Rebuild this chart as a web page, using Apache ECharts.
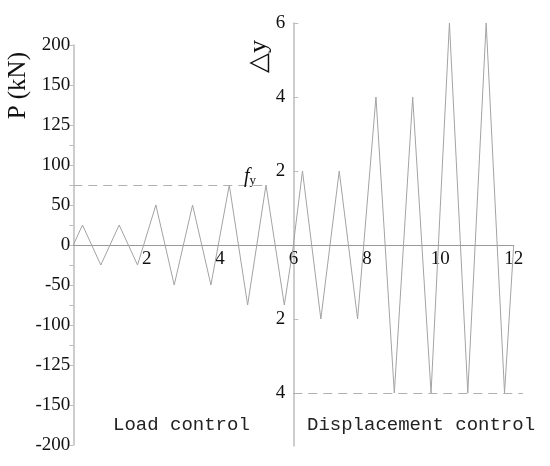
<!DOCTYPE html>
<html lang="en">
<head>
    <meta charset="UTF-8">
    <title>Loading protocol</title>
    <script src="https://cdn.jsdelivr.net/npm/echarts@6/dist/echarts.min.js"></script>
</head>
<body style="margin:0;">
    <div id="main" style="width:550px;height:466px;"></div>

    <script>
// load control part, P in kN
var loadX = [0, 0.25, 0.75, 1.25, 1.75, 2.25, 2.75, 3.25, 3.75, 4.25, 4.75, 5.25, 5.75, 6];
var loadP = [0, 25, -25, 25, -25, 50, -50, 50, -50, 75, -75, 75, -75, 0];
// displacement control part, in multiples of yield displacement
var dispX = [6, 6.25, 6.75, 7.25, 7.75, 8.25, 8.75, 9.25, 9.75, 10.25, 10.75, 11.25, 11.75, 12];
var dispD = [0, 2, -2, 2, -2, 4, -4, 4, -4, 6, -4, 6, -4, 0];

// the left axis is labelled unevenly in the original figure
var pTickValues = [-250, -200, -150, -100, -50, 0, 50, 100, 150, 200, 250];
var pTickLabels = ['-200', '-150', '-125', '-100', '-50', '0', '50', '100', '125', '150', '200'];
var pMinorTicks = [-125, -75, -25, 25, 75, 125];
var dTickValues = [6, 4, 2, -2, -4];
var yieldLoad = 75;
var dispLimit = -4;

var gray = '#a3a3a3';
var serif = '"Liberation Serif", "Times New Roman", serif';

function pairs(xs, ys) {
    return xs.map(function (x, i) { return [x, ys[i]]; });
}

var myChart = echarts.init(document.getElementById('main'));
myChart.setOption({
    animation: false,
    grid: [
        {left: 73.3, right: 36.3, top: 45, bottom: 21},
        // 6..12.25 on the same x scale as the first grid
        {left: 293.3, right: 27.1, top: 23, bottom: 20}
    ],
    xAxis: [{
        gridIndex: 0, type: 'value', min: 0, max: 12, interval: 2,
        offset: -200,
        axisLine: {onZero: false, lineStyle: {color: '#999', width: 1}},
        axisTick: {show: false},
        splitLine: {show: false},
        axisLabel: {
            color: '#111', fontFamily: serif, fontSize: 19, margin: 5,
            formatter: function (v) { return v === 0 ? '' : String(v); }
        }
    }, {
        gridIndex: 1, type: 'value', min: 6, max: 12.25, show: false
    }],
    yAxis: [{
        gridIndex: 0, type: 'value', min: -250, max: 250,
        axisLine: {show: true, onZero: false, lineStyle: {color: '#bdbdbd', width: 1.5}},
        axisTick: {show: true, length: 4, customValues: pTickValues.concat(pMinorTicks), lineStyle: {color: '#bdbdbd'}},
        splitLine: {show: false},
        axisLabel: {
            color: '#111', fontFamily: serif, fontSize: 19, margin: 3,
            customValues: pTickValues,
            formatter: function (v) { return pTickLabels[pTickValues.indexOf(v)]; }
        }
    }, {
        gridIndex: 1, type: 'value', min: -5.432, max: 6,
        axisLine: {show: true, onZero: false, lineStyle: {color: '#bdbdbd', width: 1.5}},
        axisTick: {show: true, inside: true, length: 5, customValues: dTickValues, lineStyle: {color: '#bdbdbd'}},
        splitLine: {show: false},
        axisLabel: {
            color: '#111', fontFamily: serif, fontSize: 19, margin: 8,
            customValues: dTickValues,
            formatter: function (v) { return String(Math.abs(v)); }
        }
    }],
    series: [{
        name: 'Load control', type: 'line', xAxisIndex: 0, yAxisIndex: 0,
        data: pairs(loadX, loadP), showSymbol: false, clip: false,
        lineStyle: {color: gray, width: 1},
        markLine: {
            silent: true, symbol: 'none',
            lineStyle: {color: '#b0b0b0', type: [9, 6], width: 1},
            label: {
                show: true, position: 'insideEndTop', distance: [10, -2],
                formatter: '{f|f}{s|y}',
                rich: {
                    f: {fontFamily: serif, fontStyle: 'italic', fontSize: 20, color: '#111'},
                    s: {fontFamily: serif, fontSize: 13, color: '#111', padding: [8, 0, 0, 0]}
                }
            },
            data: [[{coord: [0, yieldLoad]}, {coord: [loadX[11], yieldLoad]}]]
        }
    }, {
        name: 'Displacement control', type: 'line', xAxisIndex: 1, yAxisIndex: 1,
        data: pairs(dispX, dispD), showSymbol: false, clip: false,
        lineStyle: {color: gray, width: 1},
        markLine: {
            silent: true, symbol: 'none',
            lineStyle: {color: '#b0b0b0', type: [9, 6], width: 1},
            label: {show: false},
            data: [[{coord: [6, dispLimit]}, {coord: [12.25, dispLimit]}]]
        }
    }],
    graphic: [{
        type: 'text', left: 6, top: 52, rotation: Math.PI / 2,
        style: {text: 'P (kN)', font: '25px ' + serif, fill: '#111'}
    }, {
        type: 'text', left: 246, top: 40, rotation: Math.PI / 2,
        style: {text: '△y', font: '26px ' + serif, fill: '#111'}
    }, {
        type: 'text', left: 113, top: 415,
        style: {text: 'Load control', font: '19px "Liberation Mono", monospace', fill: '#222'}
    }, {
        type: 'text', left: 307, top: 415,
        style: {text: 'Displacement control', font: '19px "Liberation Mono", monospace', fill: '#222'}
    }]
});
    </script>
</body>
</html>
